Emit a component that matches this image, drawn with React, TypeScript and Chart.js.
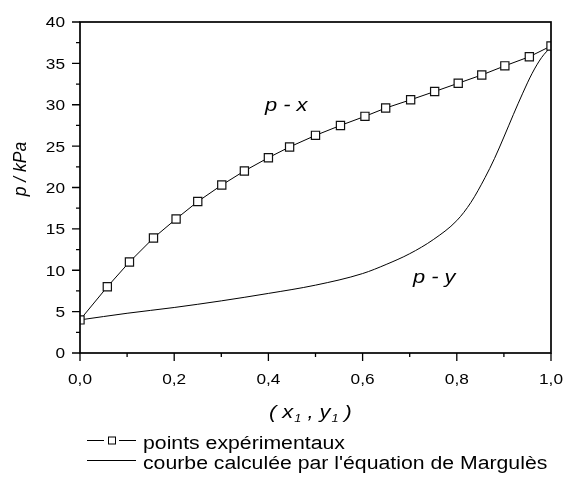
import { useEffect, useRef } from "react";
import { Chart, registerables } from "chart.js";

Chart.register(...registerables);

// Experimental liquid-phase points (p - x)
const xExp = [0, 0.058, 0.105, 0.156, 0.204, 0.25, 0.301, 0.349, 0.4, 0.445, 0.5, 0.553, 0.605, 0.649, 0.702, 0.753, 0.803, 0.853, 0.902, 0.954, 1.0];
const pExp = [4.0, 8.0, 11.0, 13.9, 16.2, 18.3, 20.3, 22.0, 23.6, 24.9, 26.3, 27.5, 28.6, 29.6, 30.6, 31.6, 32.6, 33.6, 34.7, 35.8, 37.1];

// Vapour curve computed with the Margulès equation (p - y)
const yCalc = [0, 0.1, 0.2, 0.3, 0.4, 0.5, 0.6, 0.65, 0.7, 0.75, 0.8, 0.83, 0.86, 0.88, 0.9, 0.92, 0.94, 0.96, 0.98, 1.0];
const pCalc = [4.0, 4.8, 5.5, 6.3, 7.2, 8.2, 9.6, 10.7, 12.0, 13.7, 16.0, 18.2, 21.2, 23.5, 26.1, 28.8, 31.4, 33.8, 35.7, 37.0];

// Axis ticks
const xMajor = [0, 0.2, 0.4, 0.6, 0.8, 1.0];
const xMajorLabels = ["0,0", "0,2", "0,4", "0,6", "0,8", "1,0"];
const xMinor = [0.1, 0.3, 0.5, 0.7, 0.9];
const yMajor = [0, 5, 10, 15, 20, 25, 30, 35, 40];
const yMajorLabels = ["0", "5", "10", "15", "20", "25", "30", "35", "40"];
const yMinor = [2.5, 7.5, 12.5, 17.5, 22.5, 27.5, 32.5, 37.5];

const FAMILY = '"Liberation Sans", Arial, sans-serif';
const SX = 1.15; // horizontal text stretch

function drawText(
  ctx: CanvasRenderingContext2D,
  text: string,
  x: number,
  y: number,
  font: string,
  sx: number,
  align: "left" | "center" | "right" = "left"
): number {
  ctx.save();
  ctx.font = font;
  const w = ctx.measureText(text).width * sx;
  const x0 = align === "center" ? x - w / 2 : align === "right" ? x - w : x;
  ctx.translate(x0, y);
  ctx.scale(sx, 1);
  ctx.textAlign = "left";
  ctx.textBaseline = "alphabetic";
  ctx.fillStyle = "#000";
  ctx.fillText(text, 0, 0);
  ctx.restore();
  return w;
}

const framePlugin = {
  id: "frameAndText",
  afterDraw(chart: any) {
    const ctx: CanvasRenderingContext2D = chart.ctx;
    const { left, right, top, bottom } = chart.chartArea;
    const xs = chart.scales.x;
    const ys = chart.scales.y;
    ctx.save();
    ctx.strokeStyle = "#000";
    ctx.fillStyle = "#000";

    // frame
    ctx.lineWidth = 1.7;
    ctx.strokeRect(left, top, right - left, bottom - top);

    // ticks
    ctx.lineWidth = 1.3;
    ctx.beginPath();
    xMajor.forEach((v) => {
      const px = xs.getPixelForValue(v);
      ctx.moveTo(px, bottom);
      ctx.lineTo(px, bottom + 8);
    });
    xMinor.forEach((v) => {
      const px = xs.getPixelForValue(v);
      ctx.moveTo(px, bottom);
      ctx.lineTo(px, bottom + 4);
    });
    yMajor.forEach((v) => {
      const py = ys.getPixelForValue(v);
      ctx.moveTo(left, py);
      ctx.lineTo(left - 8, py);
    });
    yMinor.forEach((v) => {
      const py = ys.getPixelForValue(v);
      ctx.moveTo(left, py);
      ctx.lineTo(left - 4, py);
    });
    ctx.stroke();

    // tick labels
    const tickFont = `15px ${FAMILY}`;
    xMajor.forEach((v, i) => {
      drawText(ctx, xMajorLabels[i], xs.getPixelForValue(v), bottom + 31, tickFont, SX, "center");
    });
    yMajor.forEach((v, i) => {
      drawText(ctx, yMajorLabels[i], left - 15, ys.getPixelForValue(v) + 5.4, tickFont, SX, "right");
    });

    // y title
    ctx.save();
    ctx.translate(26, 169);
    ctx.rotate(-Math.PI / 2);
    ctx.font = `italic 17.5px ${FAMILY}`;
    ctx.textAlign = "center";
    ctx.textBaseline = "alphabetic";
    ctx.fillText("p / kPa", 0, 0);
    ctx.restore();

    // x title: ( x1 , y1 )
    const tf = `italic 19px ${FAMILY}`;
    const sf = `italic 11px ${FAMILY}`;
    let cx = 269;
    const by = 418;
    cx += drawText(ctx, "( x", cx, by, tf, SX);
    cx += drawText(ctx, "1", cx + 1, by + 4, sf, SX) + 1;
    cx += drawText(ctx, " , y", cx, by, tf, SX);
    cx += drawText(ctx, "1", cx + 1, by + 4, sf, SX) + 1;
    drawText(ctx, " )", cx, by, tf, SX);

    // curve labels
    const lf = `italic 19px ${FAMILY}`;
    drawText(ctx, "p - x", 265, 110.5, lf, SX);
    drawText(ctx, "p - y", 413, 282.5, lf, SX);

    // legend
    const legFont = `18px ${FAMILY}`;
    ctx.lineWidth = 1;
    ctx.beginPath();
    ctx.moveTo(87, 440.5);
    ctx.lineTo(104, 440.5);
    ctx.moveTo(119, 440.5);
    ctx.lineTo(136, 440.5);
    ctx.moveTo(87, 460.5);
    ctx.lineTo(136, 460.5);
    ctx.stroke();
    ctx.fillStyle = "#fff";
    ctx.fillRect(108.5, 437, 7, 7);
    ctx.strokeRect(108.5, 437, 7, 7);
    drawText(ctx, "points expérimentaux", 143, 448.5, legFont, 1.18);
    drawText(ctx, "courbe calculée par l'équation de Margulès", 143, 468.5, legFont, 1.18);

    ctx.restore();
  },
};

export default function App() {
  const ref = useRef<HTMLCanvasElement>(null);

  useEffect(() => {
    if (!ref.current) return;
    const chart = new Chart(ref.current, {
      type: "line",
      data: {
        datasets: [
          {
            label: "points expérimentaux",
            data: xExp.map((x, i) => ({ x, y: pExp[i] })),
            borderColor: "#000",
            borderWidth: 1,
            pointStyle: "rect",
            pointRadius: 5.8,
            pointBorderWidth: 1.2,
            pointBorderColor: "#111",
            pointBackgroundColor: "#fff",
            tension: 0,
            clip: 0,
          },
          {
            label: "courbe calculée par l'équation de Margulès",
            data: yCalc.map((x, i) => ({ x, y: pCalc[i] })),
            borderColor: "#000",
            borderWidth: 1,
            pointRadius: 0,
            cubicInterpolationMode: "monotone",
            clip: 0,
          },
        ],
      },
      options: {
        animation: false,
        responsive: false,
        events: [],
        layout: { padding: { left: 80, right: 14, top: 22, bottom: 124 } },
        plugins: { legend: { display: false }, tooltip: { enabled: false } },
        scales: {
          x: { type: "linear", min: 0, max: 1, display: false },
          y: { type: "linear", min: 0, max: 40, display: false },
        },
      },
      plugins: [framePlugin],
    });
    return () => chart.destroy();
  }, []);

  return (
    <div style={{ position: "fixed", left: 0, top: 0, width: 565, height: 477, background: "#fff" }}>
      <canvas ref={ref} width={565} height={477} />
    </div>
  );
}
